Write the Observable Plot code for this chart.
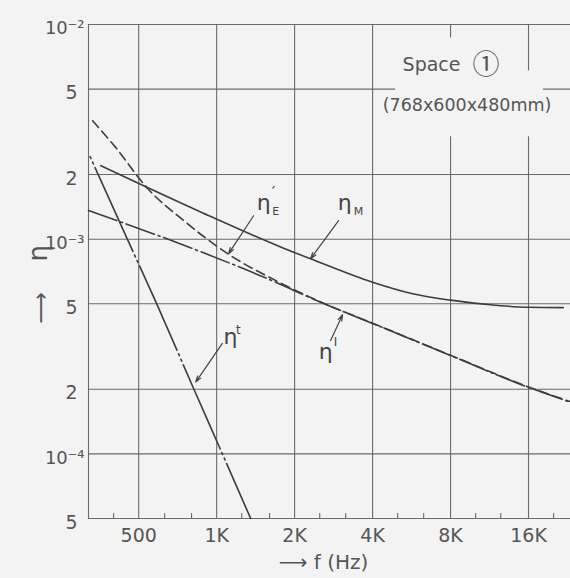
<!DOCTYPE html>
<html><head><meta charset="utf-8">
<script src="https://cdn.jsdelivr.net/npm/d3@7"></script>
<script src="https://cdn.jsdelivr.net/npm/@observablehq/plot@0.6"></script>
<style>
html,body{margin:0;padding:0;background:#f3f3f3;}
#chart svg{display:block;}
</style></head><body><div id="chart"></div>
<script>
// ---- axes / ticks ----
const xDomain = [320, 23240];
const yDomain = [5e-5, 1e-2];
const majorFreqs = [500, 1000, 2000, 4000, 8000, 16000];
const majorLabels = ["500", "1K", "2K", "4K", "8K", "16K"];
const minorFreqs = [400, 630, 800, 1250, 1600, 2500, 3150, 5000, 6300, 10000, 12500, 20000];
const etaGrid = [1e-4, 2e-4, 5e-4, 1e-3, 2e-3, 5e-3];
const digitTicks = [5e-5, 2e-4, 5e-4, 2e-3, 5e-3];
const digitLabels = ["5", "2", "5", "2", "5"];
const powerTicks = [1e-4, 1e-3, 1e-2];
const powerLabels = ["10⁻⁴", "10⁻³", "10⁻²"];

// ---- series ----
const etaM_f = [357, 867, 1766, 2305, 4000, 5600, 8000, 11400, 16000, 21800];
const etaM_v = [2.2e-3, 1.34e-3, 9.2e-4, 8.1e-4, 6.3e-4, 5.6e-4, 5.2e-4, 4.95e-4, 4.82e-4, 4.8e-4];

const etaE_f = [332, 408, 537, 746, 1103, 1766, 2520, 4000, 8000, 16000, 23240];
const etaE_v = [3.56e-3, 2.67e-3, 1.74e-3, 1.22e-3, 8.56e-4, 6.25e-4, 5.1e-4, 4.06e-4, 2.88e-4, 2.05e-4, 1.75e-4];

const etaI_f = [320, 867, 1616, 2520, 4000, 8000, 16000, 23240];
const etaI_v = [1.36e-3, 8.75e-4, 6.45e-4, 5.08e-4, 4.05e-4, 2.87e-4, 2.04e-4, 1.74e-4];

const etaT_f = [320, 452, 587, 817, 1052, 1353];
const etaT_v = [2.52e-3, 1.0e-3, 5.0e-4, 2.0e-4, 1.0e-4, 5.0e-5];

const rows = (fs, vs) => fs.map((f, i) => ({f, v: vs[i]}));

// ---- annotations ----
const notes = [
  {f1: 1389, v1: 1.286e-3, f2: 1112, v2: 8.56e-4},   // eta'_E
  {f1: 2957, v1: 1.219e-3, f2: 2305, v2: 8.11e-4},   // eta_M
  {f1: 2754, v1: 3.37e-4,  f2: 3063, v2: 4.45e-4},   // eta^I
  {f1: 1052, v1: 3.27e-4,  f2: 830,  v2: 2.16e-4}    // eta^t
];
const pieces = [
  {n: 0, text: "η", dx: 10, dy: -13, size: 22},
  {n: 0, text: "′", dx: 20, dy: -23, size: 16},
  {n: 0, text: "E", dx: 22, dy: -4, size: 11},
  {n: 1, text: "η", dx: 6, dy: -18, size: 22},
  {n: 1, text: "M", dx: 20, dy: -9, size: 11},
  {n: 2, text: "η", dx: -5, dy: 11, size: 22},
  {n: 2, text: "I", dx: 5, dy: 2, size: 12},
  {n: 3, text: "η", dx: 8, dy: -6, size: 22},
  {n: 3, text: "t", dx: 16, dy: -13, size: 12}
];

const ink = "#555";
const gridStyle = {stroke: "#6a6a6a", strokeWidth: 1.1};
const curve = {x: "f", y: "v", stroke: "#3d3d3d", strokeWidth: 1.6, curve: "monotone-x"};
const bg = "#f3f3f3";

const plot = Plot.plot({
  width: 570, height: 578,
  marginLeft: 88, marginRight: 0, marginTop: 24, marginBottom: 60,
  x: {type: "log", domain: xDomain, axis: null},
  y: {type: "log", domain: yDomain, axis: null},
  style: {fontFamily: "DejaVu Sans", background: bg, color: ink},
  marks: [
    Plot.ruleX(majorFreqs, gridStyle),
    Plot.ruleY(etaGrid, gridStyle),
    Plot.ruleX([xDomain[0]], gridStyle),
    Plot.ruleY(yDomain, gridStyle),
    Plot.ruleX(minorFreqs, {...gridStyle, insetTop: 489}),
    // blank area behind the "Space" caption
    Plot.rect([{x1: 4907, x2: 18276, y1: 3.0e-3, y2: 6.08e-3}, {x1: 4907, x2: 14900, y1: 6.0e-3, y2: 8.65e-3}],
      {x1: "x1", x2: "x2", y1: "y1", y2: "y2", fill: bg}),
    Plot.text(["Space"], {x: 6757, y: 6.48e-3, text: d => d, fontSize: 19, fill: ink}),
    Plot.text(["①"], {x: 10967, y: 6.48e-3, text: d => d, fontSize: 27, fill: ink, fontFamily: "Noto Sans CJK JP"}),
    Plot.text(["(768x600x480mm)"], {x: 9264, y: 4.18e-3, text: d => d, fontSize: 17.5, fill: ink}),
    // curves
    Plot.line(rows(etaM_f, etaM_v), curve),
    Plot.line(rows(etaE_f, etaE_v), {...curve, strokeDasharray: "9,5"}),
    Plot.line(rows(etaI_f, etaI_v), {...curve, strokeDasharray: "30,4,2,4"}),
    Plot.line(rows(etaT_f, etaT_v), {...curve, strokeDasharray: "92,4,2,4,2,4", strokeDashoffset: 92}),
    // leaders
    Plot.arrow(notes, {x1: "f1", y1: "v1", x2: "f2", y2: "v2", stroke: "#444", strokeWidth: 1.2, headLength: 8, headAngle: 35}),
    ...pieces.map(p => Plot.text([p], {
      x: d => notes[d.n].f1, y: d => notes[d.n].v1, text: "text",
      dx: p.dx, dy: p.dy, fontSize: p.size, fill: "#444"
    })),
    // tick labels
    Plot.text(majorFreqs, {x: d => d, frameAnchor: "bottom", dy: 23, text: (d, i) => majorLabels[i], fontSize: 19, fill: ink}),
    Plot.text(digitTicks, {y: d => d, frameAnchor: "left", textAnchor: "end", dx: -11, dy: 4, text: (d, i) => digitLabels[i], fontSize: 19, fill: ink}),
    Plot.text(powerTicks, {y: d => d, frameAnchor: "left", textAnchor: "end", dx: -4, dy: 4, text: (d, i) => powerLabels[i], fontSize: 18, fill: ink}),
    // axis titles
    Plot.text(["⟶ f (Hz)"], {frameAnchor: "bottom", text: d => d, dx: -6, dy: 50, fontSize: 20, fill: ink}),
    Plot.text(["⟶"], {frameAnchor: "left", text: d => d, rotate: -90, dx: -48, dy: 52, fontSize: 22, fill: ink}),
    Plot.text(["η"], {frameAnchor: "left", text: d => d, rotate: -90, dx: -50, dy: -10, fontSize: 26, fill: ink})
  ]
});
document.getElementById("chart").appendChild(plot);
</script>
</body></html>
